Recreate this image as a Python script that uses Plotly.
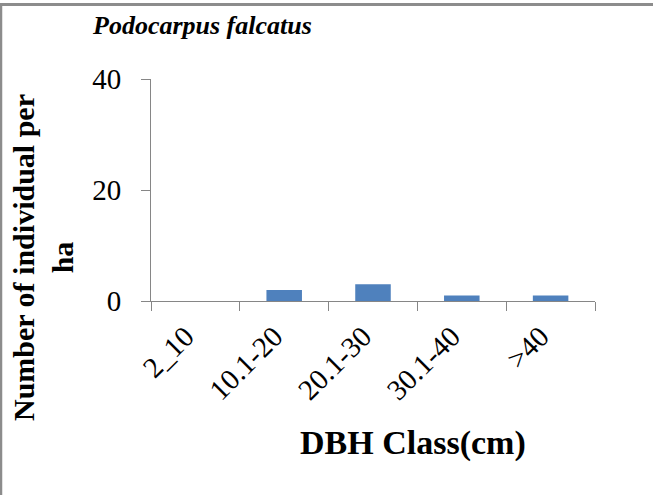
import plotly.graph_objects as go

# DBH classes and stems per hectare
dbh_classes = ["2_10", "10.1-20", "20.1-30", "30.1-40", ">40"]
individuals_per_ha = [0, 2, 3, 1, 1]
y_ticks = [0, 20, 40]

W, H = 653, 495
L, R, T, B = 151, 58, 79, 194
pw, ph = W - L - R, H - T - B


def px(x):
    return (x - L) / pw


def py(y):
    return (H - B - y) / ph


serif = "Liberation Serif, Times New Roman, serif"

fig = go.Figure()
fig.add_trace(go.Bar(x=dbh_classes, y=individuals_per_ha, marker_color="#4f81bd",
                     marker_line_width=0))

fig.update_layout(
    width=W, height=H,
    margin=dict(l=L, r=R, t=T, b=B),
    paper_bgcolor="white", plot_bgcolor="white",
    bargap=0.6, showlegend=False,
    font=dict(family=serif, color="black"),
)
fig.update_xaxes(
    showline=True, linecolor="#868686", linewidth=1,
    ticks="outside", tickson="boundaries", ticklen=9, tickcolor="#868686",
    tickangle=-45, tickfont=dict(size=29, family=serif),
    ticklabelshift=-10, ticklabelstandoff=6,
    showgrid=False, zeroline=False,
)
fig.update_yaxes(
    range=[0, 40], tickvals=y_ticks,
    showline=True, linecolor="#868686", linewidth=1,
    ticks="outside", ticklen=9, tickcolor="#868686",
    tickfont=dict(size=29, family=serif), ticklabelstandoff=14,
    showgrid=False, zeroline=False,
)

fig.add_annotation(text="<b><i>Podocarpus falcatus</i></b>", xref="paper", yref="paper",
                   x=px(202), y=py(25), xanchor="center", yanchor="middle",
                   showarrow=False, font=dict(size=26, family=serif))
fig.add_annotation(text="<b>DBH Class(cm)</b>", xref="paper", yref="paper",
                   x=px(413), y=py(443), xanchor="center", yanchor="middle",
                   showarrow=False, font=dict(size=34, family=serif))
fig.add_annotation(text="<b>Number of individual per<br>ha</b>", xref="paper", yref="paper",
                   x=px(43), y=py(258), xanchor="center", yanchor="middle",
                   showarrow=False, textangle=-90, font=dict(size=30, family=serif))

# frame: top and left edges only
fig.add_shape(type="line", xref="paper", yref="paper", x0=px(0), x1=px(W), y0=py(4.5), y1=py(4.5),
              line=dict(color="#8c8c8c", width=3))
fig.add_shape(type="line", xref="paper", yref="paper", x0=px(1), x1=px(1), y0=py(3), y1=py(H),
              line=dict(color="#8c8c8c", width=2.5))

fig.write_html("out.html", config={"displayModeBar": False},
               post_script="document.body.style.margin='0';"
                           "document.body.style.overflow='hidden';")
